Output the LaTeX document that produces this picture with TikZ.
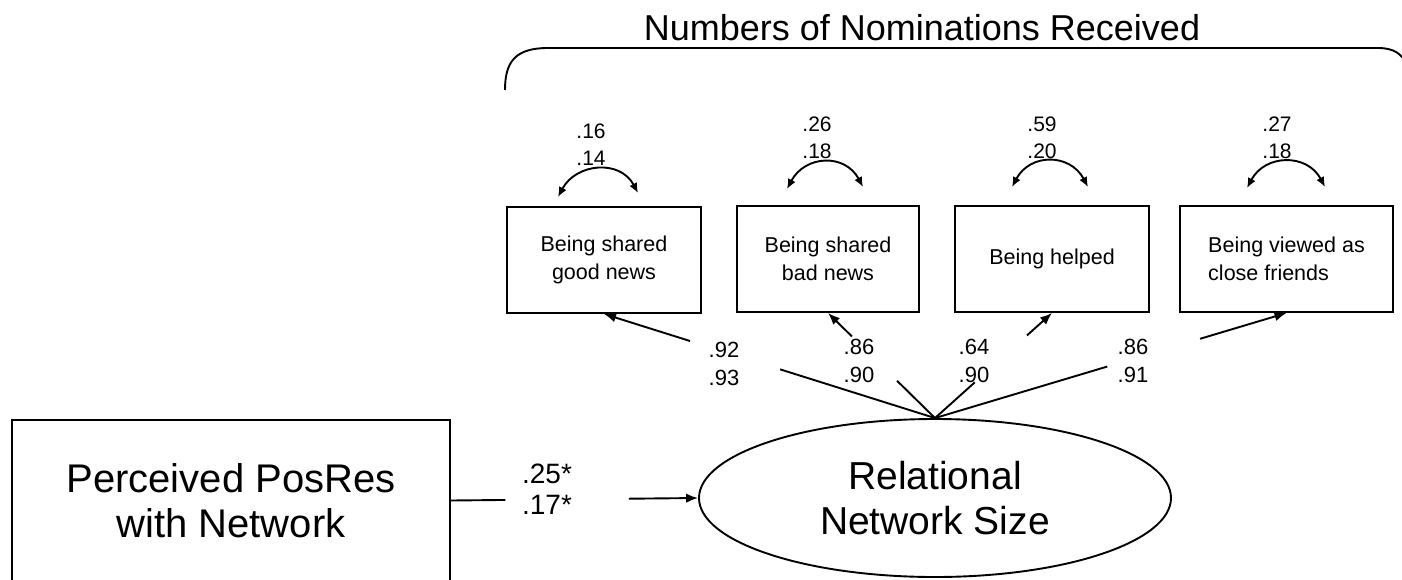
\documentclass[tikz,border=0pt]{standalone}
\usepackage{fontspec}
\setmainfont{Liberation Sans}
\usetikzlibrary{arrows.meta,shapes.geometric,calc}

\tikzset{
  obs/.style={draw, line width=1.9pt, minimum height=106pt, inner sep=0pt,
              align=center, font=\fontsize{21.5}{28}\selectfont},
  bigbox/.style={draw, line width=1.9pt, minimum width=438pt, minimum height=161pt,
              inner sep=0pt, align=center, font=\fontsize{40}{45}\selectfont},
  lat/.style={ellipse, draw, line width=1.9pt, minimum width=472pt,
              minimum height=158pt, inner sep=0pt, align=center,
              font=\fontsize{39}{45}\selectfont},
  coef/.style={align=center, inner sep=0pt, font=\fontsize{21}{27}\selectfont},
  bigcoef/.style={align=center, inner sep=0pt, font=\fontsize{28}{31}\selectfont},
  seg/.style={line width=1.9pt},
  load/.style={line width=1.9pt, -{Latex[length=12pt,width=9.5pt]}},
  cov/.style={line width=1.9pt,
              {Latex[length=10pt,width=8.5pt]}-{Latex[length=10pt,width=8.5pt]}},
}

\begin{document}
\begin{tikzpicture}[x=1pt, y=-1pt]
  \useasboundingbox (0,0) rectangle (1402,579);
  \fill[white] (0,0) rectangle (1402,579);
  \clip (0,0) rectangle (1402,579);

  % heading and the brace over the four indicators
  \node[font=\fontsize{36}{40}\selectfont] (title) at (922,28)
    {Numbers of Nominations Received};
  \draw[seg] (505,90) .. controls (505,62) and (515,48) .. (548,48)
    -- (1378,48) .. controls (1394,48) and (1402,54) .. (1406,64);

  % observed indicators
  \node[obs, minimum width=194pt] (b1) at (604,260) {Being shared\\good news};
  \node[obs, minimum width=182pt] (b2) at (828,259) {Being shared\\bad news};
  \node[obs, minimum width=194pt] (b3) at (1052,259) {Being helped};
  \node[obs, minimum width=213pt, align=left] (b4) at (1286.5,259)
    {Being viewed as\\close friends};

  % predictor and latent factor
  \node[bigbox] (b0) at (231,500.5) {Perceived PosRes\\with Network};
  \node[lat] (ell) at (935,498) {Relational\\Network Size};

  % residual variances
  \coordinate (v1a) at ($(b1.north)+(-46,-9)$);
  \coordinate (v1b) at ($(b1.north)+(34,-13)$);
  \coordinate (v2a) at ($(b2.north)+(-41,-16)$);
  \coordinate (v2b) at ($(b2.north)+(35,-18)$);
  \coordinate (v3a) at ($(b3.north)+(-40,-18)$);
  \coordinate (v3b) at ($(b3.north)+(36,-18)$);
  \coordinate (v4a) at ($(b4.north)+(-39.5,-17)$);
  \coordinate (v4b) at ($(b4.north)+(38.5,-18)$);
  \foreach \i in {1,2,3,4}{
    \draw[cov] (v\i a) .. controls ($(v\i a)+(18,-34)$) and ($(v\i b)+(-18,-34)$) .. (v\i b);
  }
  \node[coef] (r1) at ($(b1.north)+(-13,-61.5)$) {.16\\.14};
  \node[coef] (r2) at ($(b2.north)+(-11,-67.5)$) {.26\\.18};
  \node[coef] (r3) at ($(b3.north)+(-10,-67.5)$) {.59\\.20};
  \node[coef] (r4) at ($(b4.north)+(-9.5,-67.5)$) {.27\\.18};

  % factor loadings
  \draw[seg]  (ell.north) -- ($(ell.north)!0.468!(b1.south)$);
  \draw[load] ($(ell.north)!0.74!(b1.south)$) -- (b1.south);
  \draw[seg]  (ell.north) -- ($(ell.north)!0.355!(b2.south)$);
  \draw[load] ($(ell.north)!0.776!(b2.south)$) -- (b2.south);
  \draw[seg]  (ell.north) -- ($(ell.north)!0.34!(b3.south)$);
  \draw[load] ($(ell.north)!0.786!(b3.south)$) -- (b3.south);
  \draw[seg]  (ell.north) -- ($(ell.north)!0.49!(b4.south)$);
  \draw[load] ($(ell.north)!0.754!(b4.south)$) -- (b4.south);

  \node[coef, font=\fontsize{22}{28}\selectfont] (l1) at (724,364) {.92\\.93};
  \node[coef, font=\fontsize{22}{28}\selectfont] (l2) at (859,360.5) {.86\\.90};
  \node[coef, font=\fontsize{22}{28}\selectfont] (l3) at (974,360.5) {.64\\.90};
  \node[coef, font=\fontsize{22}{28}\selectfont] (l4) at (1133,360.5) {.86\\.91};

  % structural path
  \draw[seg]  (b0.east) -- ($(b0.east)!0.22!(ell.west)$);
  \draw[load] ($(b0.east)!0.72!(ell.west)$) -- (ell.west);
  \node[bigcoef] (s1) at (547,489) {.25*\\.17*};
\end{tikzpicture}
\end{document}
